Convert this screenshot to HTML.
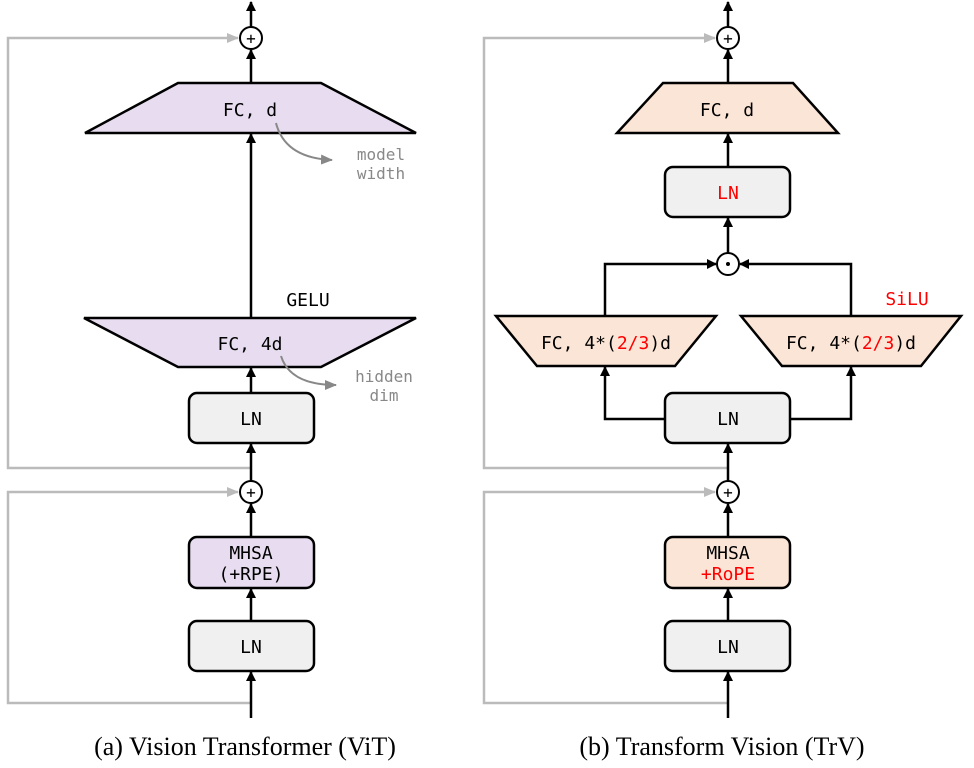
<!DOCTYPE html>
<html><head><meta charset="utf-8"><style>body{margin:0;background:#fff}svg{display:block}</style></head>
<body>
<svg width="974" height="768" viewBox="0 0 974 768" xmlns="http://www.w3.org/2000/svg">
<defs>
<marker id="a" markerWidth="10" markerHeight="10" refX="9" refY="5" orient="auto" markerUnits="userSpaceOnUse"><path d="M0,0 L10,5 L0,10 z" fill="#000"/></marker>
<marker id="g" markerWidth="12" markerHeight="10" refX="11" refY="5" orient="auto" markerUnits="userSpaceOnUse"><path d="M0,0 L12,5 L0,10 z" fill="#bbb"/></marker>
<marker id="m" markerWidth="12" markerHeight="10" refX="11" refY="5" orient="auto" markerUnits="userSpaceOnUse"><path d="M0,0 L12,5 L0,10 z" fill="#888"/></marker>
</defs>
<g font-family="DejaVu Sans Mono, Liberation Mono, monospace" font-size="18" text-anchor="middle">
<!-- LEFT -->
<g fill="none" stroke="#bbb" stroke-width="2.5">
<path d="M251,468 H8 V38 H238" marker-end="url(#g)"/>
<path d="M251,703 H8 V492 H238" marker-end="url(#g)"/>
</g>
<g stroke="#000" stroke-width="2.5" fill="none">
<path d="M251,27 V2" marker-end="url(#a)"/>
<path d="M251,83 V50" marker-end="url(#a)"/>
<path d="M251,318 V134" marker-end="url(#a)"/>
<path d="M251,393 V368" marker-end="url(#a)"/>
<path d="M251,481 V444" marker-end="url(#a)"/>
<path d="M251,537 V504" marker-end="url(#a)"/>
<path d="M251,621 V589" marker-end="url(#a)"/>
<path d="M251,718 V672" marker-end="url(#a)"/>
</g>
<circle cx="251" cy="38" r="11" fill="#fff" stroke="#000" stroke-width="2"/><text x="251" y="44" font-size="16">+</text>
<circle cx="251" cy="492" r="11" fill="#fff" stroke="#000" stroke-width="2"/><text x="251" y="498" font-size="16">+</text>
<polygon points="178,83 321,83 416,133 85,133" fill="#e8ddf0" stroke="#000" stroke-width="2.5"/>
<text x="250" y="116">FC, d</text>
<polygon points="84,318 416,318 321,367 178,367" fill="#e8ddf0" stroke="#000" stroke-width="2.5"/>
<text x="250" y="350">FC, 4d</text>
<text x="308" y="306">GELU</text>
<path d="M276,123 Q285,158 332,160" fill="none" stroke="#888" stroke-width="2" marker-end="url(#m)"/>
<path d="M281,356 Q290,385 336,385" fill="none" stroke="#888" stroke-width="2" marker-end="url(#m)"/>
<g fill="#888" font-size="16"><text x="381" y="160">model</text><text x="381" y="179">width</text><text x="384" y="382">hidden</text><text x="384" y="401">dim</text></g>
<rect x="189" y="393" width="125" height="50" rx="8" fill="#f0f0f0" stroke="#000" stroke-width="2.5"/><text x="251" y="425">LN</text>
<rect x="189" y="537" width="125" height="51" rx="8" fill="#e8ddf0" stroke="#000" stroke-width="2.5"/><text x="251" y="559">MHSA</text><text x="251" y="580">(+RPE)</text>
<rect x="189" y="621" width="125" height="50" rx="8" fill="#f0f0f0" stroke="#000" stroke-width="2.5"/><text x="251" y="653">LN</text>
<!-- RIGHT -->
<g fill="none" stroke="#bbb" stroke-width="2.5">
<path d="M728,468 H484 V38 H715" marker-end="url(#g)"/>
<path d="M728,703 H484 V492 H715" marker-end="url(#g)"/>
</g>
<g stroke="#000" stroke-width="2.5" fill="none">
<path d="M728,27 V2" marker-end="url(#a)"/>
<path d="M728,83 V50" marker-end="url(#a)"/>
<path d="M728,167 V134" marker-end="url(#a)"/>
<path d="M728,253 V218" marker-end="url(#a)"/>
<path d="M605,316 V264 H716" marker-end="url(#a)"/>
<path d="M851,316 V264 H740" marker-end="url(#a)"/>
<path d="M665,419 H605 V367" marker-end="url(#a)"/>
<path d="M790,419 H851 V367" marker-end="url(#a)"/>
<path d="M728,481 V444" marker-end="url(#a)"/>
<path d="M728,537 V504" marker-end="url(#a)"/>
<path d="M728,621 V589" marker-end="url(#a)"/>
<path d="M728,718 V672" marker-end="url(#a)"/>
</g>
<circle cx="728" cy="38" r="11" fill="#fff" stroke="#000" stroke-width="2"/><text x="728" y="44" font-size="16">+</text>
<circle cx="728" cy="264" r="11" fill="#fff" stroke="#000" stroke-width="2"/><circle cx="728" cy="264" r="2" fill="#000"/>
<circle cx="728" cy="492" r="11" fill="#fff" stroke="#000" stroke-width="2"/><text x="728" y="498" font-size="16">+</text>
<polygon points="663,83 793,83 838,133 617,133" fill="#fbe5d6" stroke="#000" stroke-width="2.5"/>
<text x="727" y="116">FC, d</text>
<rect x="665" y="167" width="125" height="50" rx="8" fill="#f0f0f0" stroke="#000" stroke-width="2.5"/><text x="728" y="199" fill="#f00">LN</text>
<polygon points="496,316 716,316 675,366 537,366" fill="#fbe5d6" stroke="#000" stroke-width="2.5"/>
<text x="606" y="349">FC, 4*(<tspan fill="#f00">2/3</tspan>)d</text>
<polygon points="741,316 961,316 921,366 782,366" fill="#fbe5d6" stroke="#000" stroke-width="2.5"/>
<text x="851" y="349">FC, 4*(<tspan fill="#f00">2/3</tspan>)d</text>
<text x="907" y="305" fill="#f00">SiLU</text>
<rect x="665" y="393" width="125" height="50" rx="8" fill="#f0f0f0" stroke="#000" stroke-width="2.5"/><text x="728" y="425">LN</text>
<rect x="665" y="537" width="125" height="51" rx="8" fill="#fbe5d6" stroke="#000" stroke-width="2.5"/><text x="728" y="559">MHSA</text><text x="728" y="580" fill="#f00">+RoPE</text>
<rect x="665" y="621" width="125" height="50" rx="8" fill="#f0f0f0" stroke="#000" stroke-width="2.5"/><text x="728" y="653">LN</text>
</g>
<g font-family="Liberation Serif, serif" font-size="26" text-anchor="middle" fill="#000">
<text x="245" y="755">(a) Vision Transformer (ViT)</text>
<text x="722" y="755">(b) Transform Vision (TrV)</text>
</g>
</svg>
</body></html>
